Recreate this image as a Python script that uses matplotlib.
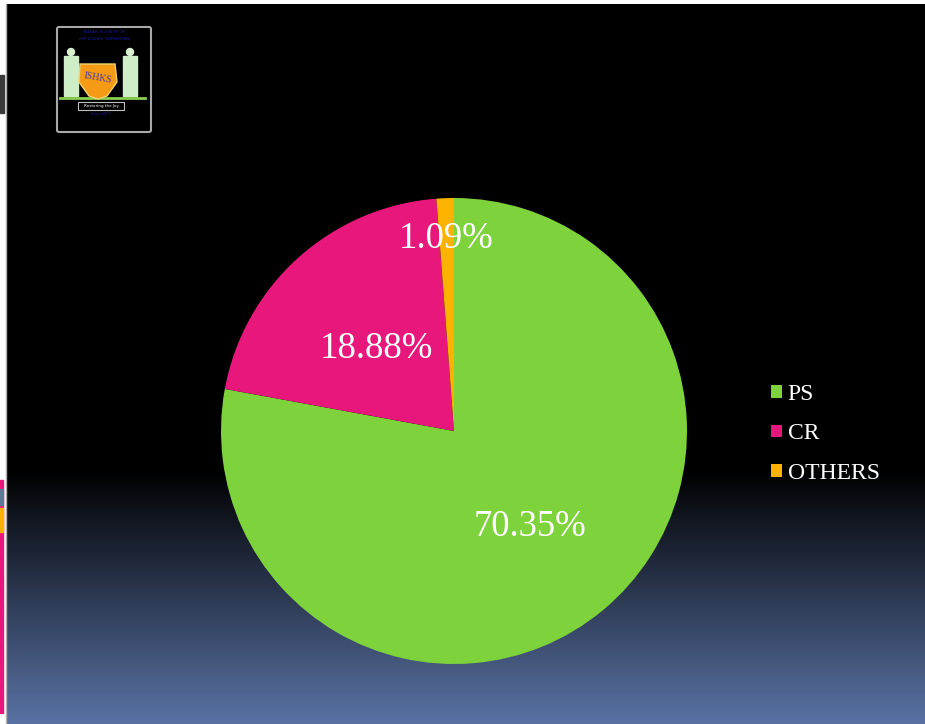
import numpy as np
import matplotlib.pyplot as plt
from matplotlib.patches import Rectangle, FancyBboxPatch, Polygon, Ellipse

# Valores das fatias
categorias = ['PS', 'CR', 'OTHERS']
valores = [70.35, 18.88, 1.09]
rotulos = ['70.35%', '18.88%', '1.09%']
cores = ['#7ed23c', '#e8177b', '#fbb200']

W, H = 925, 724
fig = plt.figure(figsize=(W / 100, H / 100), dpi=100)
fig.patch.set_facecolor('white')

# Fundo do slide em coordenadas de pixel
bg = fig.add_axes([0, 0, 1, 1])
bg.set_xlim(0, W)
bg.set_ylim(H, 0)
bg.axis('off')

y0, y1 = 4, H
linhas = np.arange(y0, y1)
frac = np.clip((linhas - 470) / (H - 470), 0, 1)
topo = np.array([0, 0, 0])
base = np.array([90, 115, 165]) / 255
grad = topo[None, :] * (1 - frac[:, None]) + base[None, :] * frac[:, None]
grad = np.repeat(grad[:, None, :], 2, axis=1)
bg.imshow(grad, extent=[6, W, y1, y0], aspect='auto', interpolation='bilinear', zorder=0)
bg.plot([5.5, 5.5], [y0, H], color='#b0b0b0', lw=1, zorder=1)

# Detalhes na borda esquerda
bg.add_patch(Rectangle((0, 75), 4, 38, color='#3a3a3a', zorder=1))
bg.add_patch(Rectangle((0, 480), 3, 233, color='#e8177b', zorder=1))
bg.add_patch(Rectangle((0, 489), 3, 16, color='#5d7a94', zorder=2))
bg.add_patch(Rectangle((0, 508), 3, 24, color='#fbb200', zorder=2))

# Logo
bg.add_patch(FancyBboxPatch((57, 27), 94, 105, boxstyle='round,pad=0,rounding_size=2',
                            fc='black', ec='#a8a8a8', lw=1.5, zorder=2))
bg.text(104, 32, 'INDIAN SOCIETY OF', color='#1a1aa0', fontsize=3.2, ha='center', va='center', zorder=3)
bg.text(104, 39, 'HIP & KNEE SURGEONS', color='#1a1aa0', fontsize=3.2, ha='center', va='center', zorder=3)
for px in (71, 130):
    bg.add_patch(Ellipse((px, 52), 7, 7, color='#d8f0d0', zorder=3))
    bg.add_patch(Rectangle((px - 7, 56), 14, 40, color='#cfeec8', zorder=3))
bg.plot([60, 145], [98, 98], color='#8ad050', lw=2, zorder=3)
escudo = Polygon([[80, 64], [115, 64], [117, 82], [107, 96], [98, 99], [89, 96], [79, 82]],
                 closed=True, fc='#f49a14', ec='#f7d070', lw=1, zorder=4)
bg.add_patch(escudo)
bg.text(98, 78, 'ISHKS', color='#4a3a9a', fontsize=7, ha='center', va='center',
        family='Liberation Serif', rotation=-10, zorder=5)
bg.add_patch(Rectangle((78, 102), 46, 8, fc='black', ec='#c0c0c0', lw=0.8, zorder=4))
bg.text(101, 106, 'Restoring the Joy', color='white', fontsize=3, ha='center', va='center', zorder=5)
bg.text(101, 114, 'Since 2007', color='#1a1aa0', fontsize=2.5, ha='center', va='center', zorder=5)

# Pizza
cx, cy, r = 454, 431, 233
ax = fig.add_axes([(cx - r) / W, (H - cy - r) / H, 2 * r / W, 2 * r / H])
wedges, _ = ax.pie(valores, colors=cores, startangle=90, counterclock=False,
                   wedgeprops=dict(linewidth=0))
ax.set_xlim(-1, 1)
ax.set_ylim(-1, 1)
ax.axis('off')

distancias = [0.51, 0.50, 0.845]
for w, txt, d in zip(wedges, rotulos, distancias):
    ang = np.deg2rad((w.theta1 + w.theta2) / 2)
    ax.text(d * np.cos(ang), d * np.sin(ang), txt, color='white', fontsize=26.5,
            family='Liberation Serif', ha='center', va='center_baseline')

# Legenda
leg = fig.legend(wedges, categorias, loc='upper left', bbox_to_anchor=(771 / W, 1 - 384 / H),
                 frameon=False, borderaxespad=0, borderpad=0,
                 handlelength=0.45, handleheight=0.45, handletextpad=0.25,
                 labelspacing=0.78, prop={'family': 'Liberation Serif', 'size': 17})
for t in leg.get_texts():
    t.set_color('white')

fig.savefig('out.png', dpi=100)
